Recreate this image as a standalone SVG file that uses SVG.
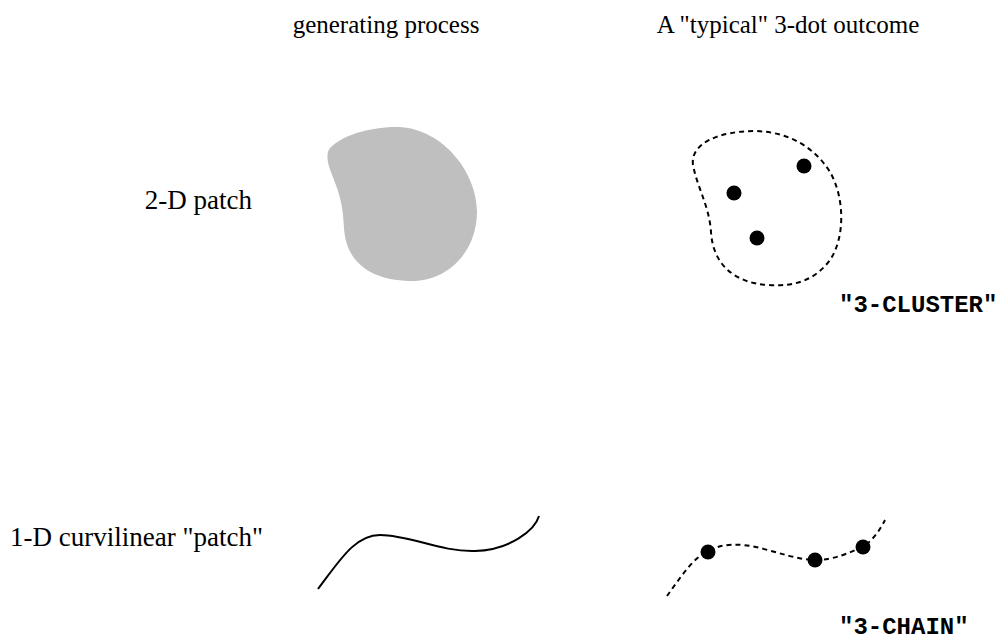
<svg xmlns="http://www.w3.org/2000/svg" width="1008" height="643" viewBox="0 0 1008 643">
<style>
.serif{font-family:"Liberation Serif","Times New Roman",serif;fill:#000}
.hdr{font-size:25px}
.lbl{font-size:27px}
.mono{font-family:"Liberation Mono","Courier New",monospace;font-weight:bold;font-size:24px;fill:#000}
.dot{fill:#000}
.dash{fill:none;stroke:#000;stroke-width:2;stroke-dasharray:5 4}
.solid{fill:none;stroke:#000;stroke-width:2}
</style>
<rect width="1008" height="643" fill="#fff"/>
<g id="headers">
<text class="serif hdr" x="386" y="33" text-anchor="middle">generating process</text>
<text class="serif hdr" x="788" y="33" text-anchor="middle">A "typical" 3-dot outcome</text>
</g>
<g id="label-2d"><text class="serif lbl" x="252" y="209" text-anchor="end">2-D patch</text></g>
<g id="label-1d"><text class="serif lbl" x="10" y="546">1-D curvilinear "patch"</text></g>
<g id="patch-2d">
<path fill="#bfbfbf" d="M 330,148 C 345,132 380,126 400,127 C 445,130 478,175 477,213 C 476,255 445,282 410,281 C 370,280 346,262 344,228 C 343,200 337,188 331,172 C 327,162 326,153 330,148 Z"/>
</g>
<g id="cluster">
<path class="dash" d="M 693,165 C 690,143 720,131 755,131 C 790,132 815,148 830,172 C 845,198 845,238 830,260 C 815,280 795,287 768,285 C 735,283 713,265 711,232 C 709,205 698,190 693,165 Z"/>
<circle class="dot" cx="804" cy="166" r="7.5"/>
<circle class="dot" cx="734" cy="193" r="7.5"/>
<circle class="dot" cx="757" cy="238" r="7.5"/>
<text class="mono" x="839" y="312">"3-CLUSTER"</text>
</g>
<g id="curve-1d">
<path class="solid" d="M 318,589 C 340,560 355,535 380,535 C 410,535 440,552 475,551 C 510,550 535,530 539,516"/>
</g>
<g id="chain">
<path class="dash" d="M 667,596 C 680,578 695,555 708,552 C 720,543 740,543 760,548 C 780,553 800,560 815,560 C 835,560 850,552 863,547 C 873,540 880,530 885,520"/>
<circle class="dot" cx="708" cy="552" r="7.5"/>
<circle class="dot" cx="815" cy="560" r="7.5"/>
<circle class="dot" cx="863" cy="547" r="7.5"/>
<text class="mono" x="839" y="634">"3-CHAIN"</text>
</g>
</svg>
